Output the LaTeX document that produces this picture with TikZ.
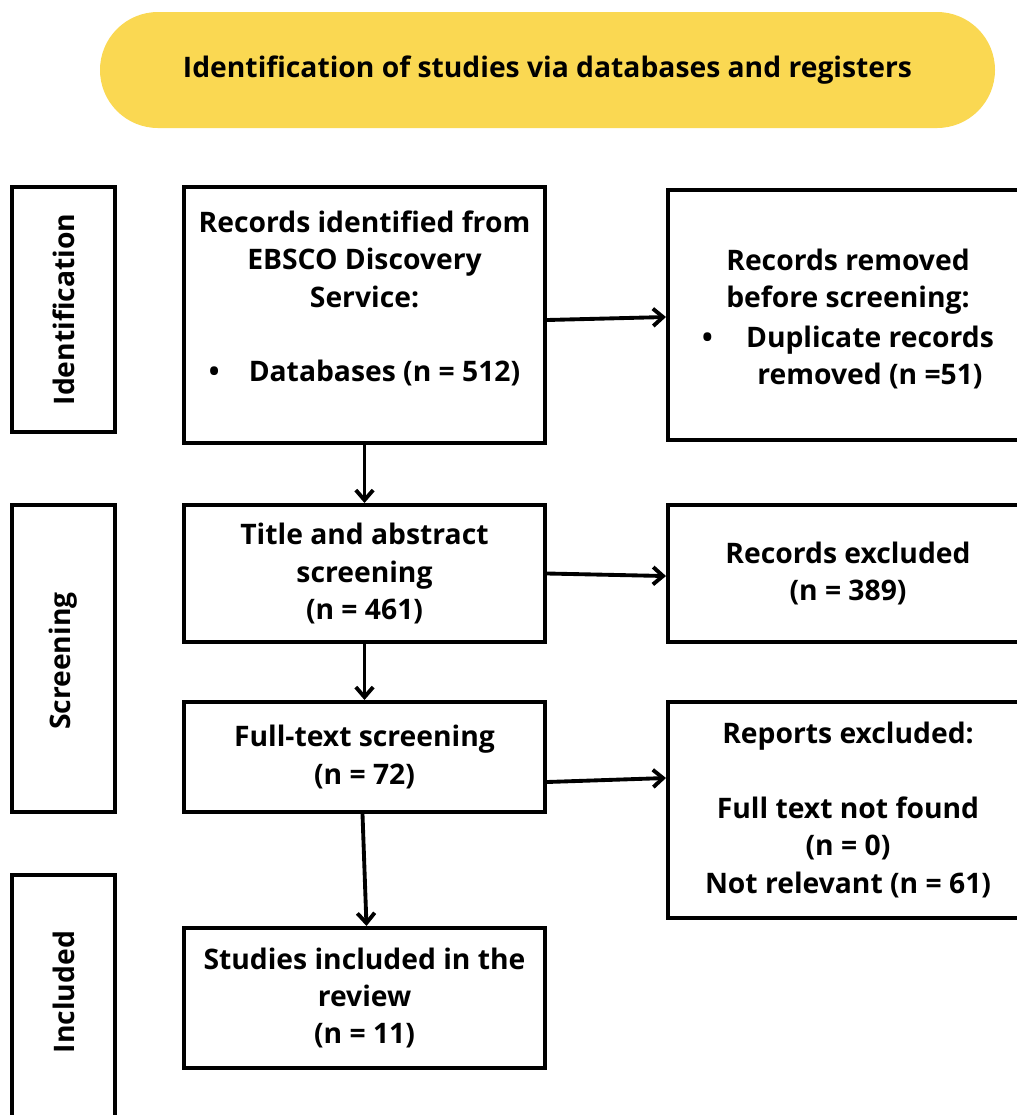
\documentclass[tikz,border=0pt]{standalone}
\usepackage{fontspec}
\setmainfont{Open Sans}
\usetikzlibrary{arrows.meta}
\definecolor{banner}{RGB}{250,216,82}
\begin{document}
\begin{tikzpicture}[x=0.75pt,y=-0.75pt,
  txt/.style={font=\fontsize{21.2}{28}\selectfont\bfseries, align=center},
  box/.style={draw=black, line width=3pt, rectangle, inner sep=0pt, txt},
  mainbox/.style={box, minimum width=271pt},
  sidebox/.style={box, minimum width=270pt},
  labbox/.style={box, minimum width=77.25pt},
  arr/.style={line width=2.9pt, line cap=round, -{Straight Barb[length=7.5pt,width=13pt,line width=2.9pt]}}]
\path[use as bounding box, clip] (0,0) rectangle (1017,1115);
\fill[white] (0,0) rectangle (1017,1115);
% banner
\node[fill=banner, rounded corners=43.5pt, minimum width=671.25pt, minimum height=87pt, inner sep=0pt, txt] (ban) at (547.5,70) {Identification of studies via databases and registers};
% stage labels
\node[labbox, minimum height=183.75pt] (lid) at (63.5,309.5) {};
\node[txt, rotate=90] (lidt) at (lid.center) {Identification};
\node[labbox, minimum height=230.25pt] (lsc) at (63.5,658.5) {};
\node[txt, rotate=90] (lsct) at ([yshift=-2pt]lsc.center) {Screening};
\node[labbox, minimum height=187.5pt] (lin) at (63.5,1000) {};
\node[txt, rotate=90] (lint) at ([yshift=6pt]lin.center) {Included};
% main column
\node[mainbox, minimum height=192pt] (rid) at (364.5,315) {Records identified from\\EBSCO Discovery\\Service:\\~\\\textbullet\hspace{22pt}Databases (n = 512)\\~};
\node[mainbox, minimum height=102.75pt] (tas) at (364.5,573.5) {Title and abstract\\screening\\(n = 461)};
\node[mainbox, minimum height=82.5pt] (fts) at (364.5,757) {Full-text screening\\(n = 72)};
\node[mainbox, minimum height=105pt] (sti) at (364.5,998) {Studies included in the\\review\\(n = 11)};
% side column
\node[sidebox, minimum height=187.5pt] (rem) at (848,315) {\rule{0pt}{27pt}Records removed\\before screening:\\[1.5pt]\begin{tabular}[t]{@{}l@{\hspace{25pt}}c@{}}\textbullet & Duplicate records\\ & removed (n =51)\end{tabular}};
\node[sidebox, minimum height=102.75pt] (rex) at (848,573.5) {Records excluded\\(n = 389)};
\node[sidebox, minimum height=162pt] (rep) at (848,810) {Reports excluded:\\~\\Full text not found\\(n = 0)\\Not relevant (n = 61)};
% connectors
\draw[arr] ([yshift=-3.75pt]rid.east) -- ([yshift=-1.5pt]rem.west);
\draw[arr] (tas.east) -- ([yshift=-1.9pt]rex.west);
\draw[arr] ([yshift=-18.75pt]fts.east) -- ([yshift=24pt]rep.west);
\draw[arr] (rid.south) -- (tas.north);
\draw[arr] (tas.south) -- (fts.north);
\draw[arr] ([xshift=-1.5pt]fts.south) -- ([xshift=1.5pt]sti.north);
\end{tikzpicture}
\end{document}
